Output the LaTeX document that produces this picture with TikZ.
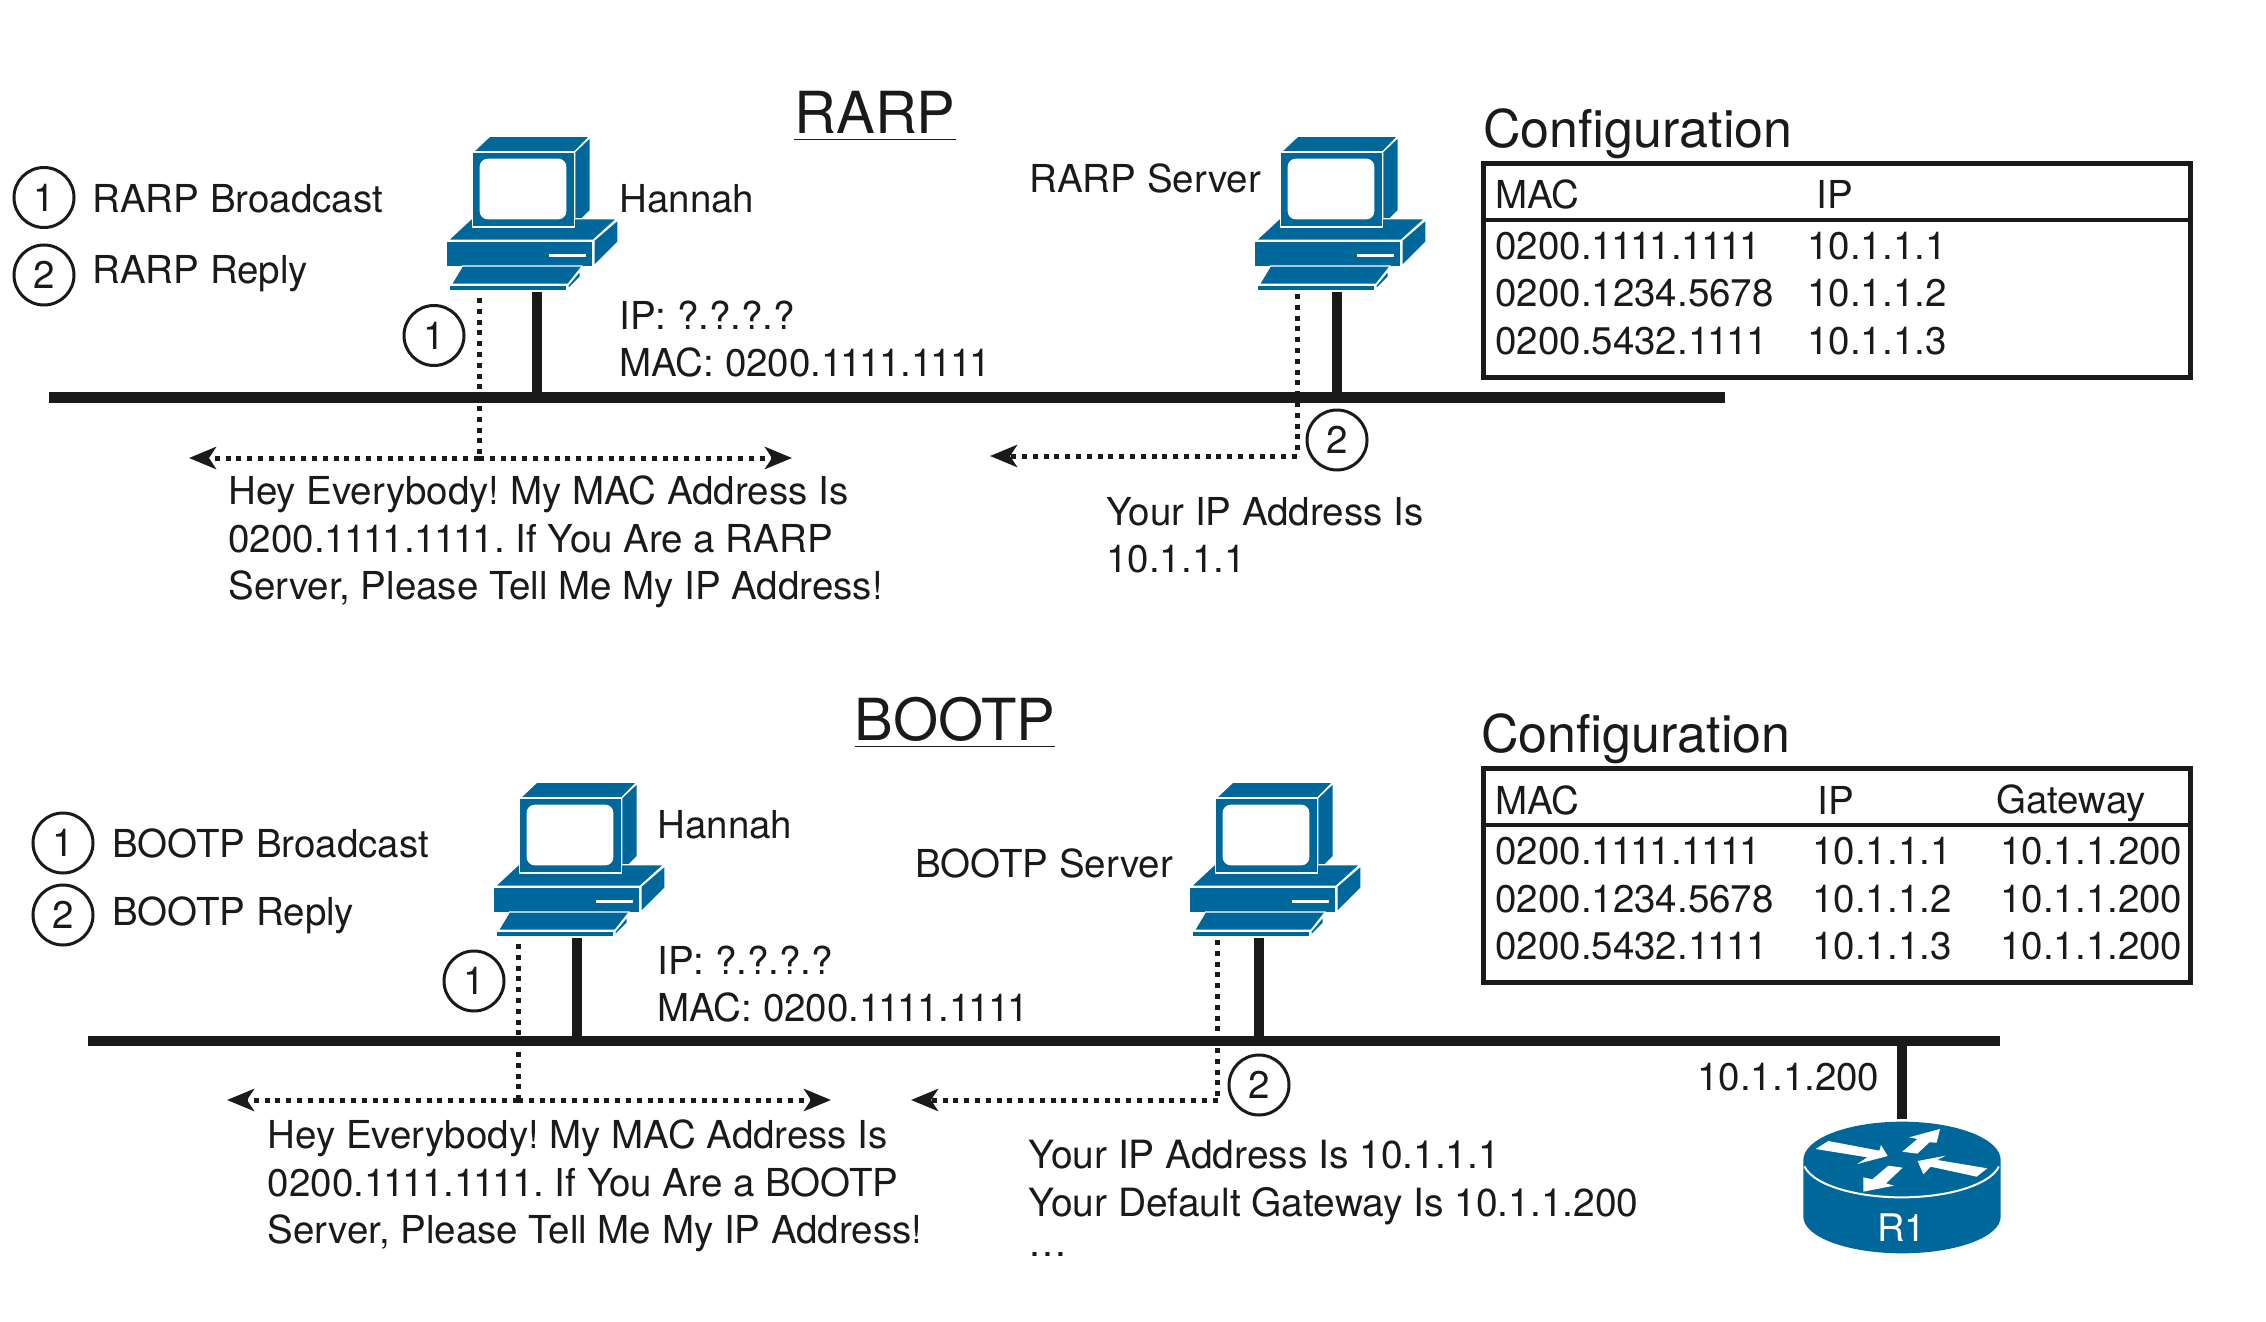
\documentclass[tikz,border=0pt]{standalone}
\usepackage{fontspec}
\setmainfont{TeX Gyre Heros}
\usetikzlibrary{arrows.meta}
\definecolor{ciscoblue}{RGB}{0,103,155}
\definecolor{inkblack}{RGB}{26,26,26}
\newcommand\ones{1\kern-1.05pt 1\kern-1.05pt 1\kern-1.05pt 1}
\newcommand\headline[1]{\underline{#1\rule[-1.5pt]{0pt}{1pt}}}
\tikzset{
  txt/.style={inner sep=0pt,text=inkblack,font=\fontsize{19.25}{23.75}\selectfont,align=left,anchor=west},
  heading/.style={txt,font=\fontsize{29}{32}\selectfont,anchor=center},
  conftitle/.style={txt,font=\fontsize{26}{30}\selectfont},
  num/.style={circle,draw=inkblack,line width=1.5pt,minimum size=30pt,inner sep=0pt,text=inkblack,font=\fontsize{19.25}{23.75}\selectfont},
  bus/.style={draw=inkblack,line width=5.3pt},
  stem/.style={draw=inkblack,line width=5pt},
  drop/.style={draw=inkblack,line width=2.5pt,dash pattern=on 2.5pt off 2.9pt},
  flow/.style={drop,-{Stealth[length=13.5pt,width=11pt,inset=3.5pt]}},
  tablebox/.style={draw=inkblack,line width=2.3pt,inner sep=0pt},
  skin/.style={fill=ciscoblue,draw=white,line width=.6pt,line join=round},
  hostpic/.pic={
    \begin{scope}[scale=1/3,shift={(-412,-575)}]
      \path[skin] (220,155) -- (270,108) -- (570,108) -- (525,155) -- cycle;
      \path[skin] (525,155) -- (572,110) -- (572,330) -- (525,378) -- cycle;
      \path[skin] (145,420) -- (215,355) -- (652,355) -- (580,420) -- cycle;
      \path[skin] (218,155) rectangle (525,380);
      \fill[white,rounded corners=4pt] (240,175) rectangle (500,357);
      \path[skin] (583,420) -- (655,358) -- (655,425) -- (583,497) -- cycle;
      \path[skin] (140,423) rectangle (580,500);
      \draw[white,line width=1.7pt] (447,465) -- (558,465);
      \path[skin] (188,497) -- (548,497) -- (505,552) -- (155,552) -- cycle;
      \path[skin] (505,555) -- (542,510) -- (542,530) -- (505,567) -- cycle;
      \path[skin] (150,555) rectangle (502,570);
    \end{scope}
  }
}
\frenchspacing
\begin{document}
\begin{tikzpicture}[x=0.5pt,y=-0.5pt]
  \useasboundingbox (0,0) rectangle (2266,1322);

  % Upper half
  \node[heading] (rarp) at (875,115.5) {\headline{RARP}};
  \node[num] (legA1) at (44,197.5) {1};
  \node[num] (legA2) at (44,275) {2};
  \node[txt] (legA1txt) at (92,198.5) {RARP Broadcast};
  \node[txt] (legA2txt) at (92,274) {RARP Reply};

  \pic at (537,292) {hostpic};
  \pic at (1345,292) {hostpic};
  \coordinate (hostA) at (537,292);
  \coordinate (serverA) at (1337,292);
  \node[txt] (hannahA) at (619,198.5) {Hannah};
  \node[txt] (serverAtxt) at (1029,178) {RARP Server};
  \node[txt] (addrA) at (619,339) {IP: ?.?.?.?\\MAC: 0200.\ones.\ones};
  \node[num] (oneA) at (434,335.5) {1};
  \node[num] (twoA) at (1337,440) {2};

  \coordinate (busAl) at (49,397.5);
  \coordinate (busAr) at (1725,397.5);
  \coordinate (dropA) at (479,298);
  \coordinate (forkA) at (479,458);
  \coordinate (leftA) at (189,458);
  \coordinate (rightA) at (792,458);
  \coordinate (dropS) at (1297,294);
  \coordinate (forkS) at (1297,456);
  \coordinate (backS) at (990,456);

  \node[txt] (heyA) at (228,542) {Hey Everybody! My MAC Address Is\\0200.\ones.\ones. If You Are a RARP\\Server, Please Tell Me My IP Address!};
  \node[txt] (replyA) at (1106,535) {Your IP Address Is\\10.1.1.1};

  % Upper table
  \node[conftitle] (confA) at (1483,134) {Configuration};
  \node[tablebox,minimum width=353.5pt,minimum height=107pt,anchor=north west] (tableA) at (1481,161) {};
  \coordinate (headAl) at (1481,220);
  \coordinate (headAr) at (2188,220);
  \node[txt] (macAh) at (1495,194) {MAC};
  \node[txt] (ipAh) at (1816,194) {IP};
  \node[txt] (macA) at (1495,293.5) {0200.\ones.\ones\\0200.1234.5678\\0200.5432.\ones};
  \node[txt] (ipA) at (1807,293.5) {10.1.1.1\\10.1.1.2\\10.1.1.3};

  % Lower half
  \node[heading] (bootp) at (955,722) {\headline{BOOTP}};
  \node[num] (legB1) at (63,843) {1};
  \node[num] (legB2) at (63,915) {2};
  \node[txt] (legB1txt) at (112,843) {BOOTP Broadcast};
  \node[txt] (legB2txt) at (112,915) {BOOTP Reply};

  \pic at (584,938) {hostpic};
  \pic at (1280,938) {hostpic};
  \coordinate (hostB) at (577,938);
  \coordinate (serverB) at (1259,938);
  \node[txt] (hannahB) at (657,825) {Hannah};
  \node[txt] (serverBtxt) at (915,863) {BOOTP Server};
  \node[txt] (addrB) at (657,984) {IP: ?.?.?.?\\MAC: 0200.\ones.\ones};
  \node[num] (oneB) at (474,981) {1};
  \node[num] (twoB) at (1259,1085) {2};

  \coordinate (busBl) at (88,1041);
  \coordinate (busBr) at (2000,1041);
  \coordinate (dropB) at (518,944);
  \coordinate (forkB) at (518,1100);
  \coordinate (leftB) at (227,1100);
  \coordinate (rightB) at (831,1100);
  \coordinate (dropT) at (1217.5,940);
  \coordinate (forkT) at (1217.5,1100);
  \coordinate (backT) at (911,1100);

  \node[txt] (heyB) at (267.5,1186) {Hey Everybody! My MAC Address Is\\0200.\ones.\ones. If You Are a BOOTP\\Server, Please Tell Me My IP Address!};
  \node[txt,font=\fontsize{19.45}{23.75}\selectfont] (replyB) at (1028,1198.5) {Your IP Address Is 10.1.1.1\\Your Default Gateway Is 10.1.1.200\\[-3.5pt]\dots};
  \node[txt] (gwtxt) at (1697,1077) {10.1.1.200};

  % Lower table
  \node[conftitle] (confB) at (1481,738.5) {Configuration};
  \node[tablebox,minimum width=353.5pt,minimum height=107pt,anchor=north west] (tableB) at (1481,766) {};
  \coordinate (headBl) at (1481,825);
  \coordinate (headBr) at (2188,825);
  \node[txt] (macBh) at (1495,800) {MAC};
  \node[txt] (ipBh) at (1817,800) {IP};
  \node[txt] (gwBh) at (1996,803) {Gateway};
  \node[txt] (macB) at (1495,899) {0200.\ones.\ones\\0200.1234.5678\\0200.5432.\ones};
  \node[txt] (ipB) at (1812,899) {10.1.1.1\\10.1.1.2\\10.1.1.3};
  \node[txt] (gwB) at (2000,899) {10.1.1.200\\10.1.1.200\\10.1.1.200};

  % Router
  \coordinate (routerTop) at (1902,1119);
  \begin{scope}[shift={(1780,1020)},scale=1/3]
    \fill[ciscoblue] (70,420) -- (70,590) arc[start angle=180,end angle=0,x radius=296,y radius=110]
      -- (662,420) arc[start angle=0,end angle=-180,x radius=296,y radius=115] -- cycle;
    \draw[white,line width=1pt] (73.5,439.5) arc[start angle=170,end angle=10,x radius=296,y radius=112];
    \fill[white] (107,387) -- (145,363) -- (298,392) -- (303,375) -- (323,408) -- (232,432) -- (262,412) -- cycle;
    \fill[white] (367,395) -- (412,401) -- (448,367) -- (470,368) -- (480,327) -- (387,352) -- (412,357) -- cycle;
    \fill[white] (622,445) -- (590,470) -- (452,440) -- (430,463) -- (413,423) -- (497,407) -- (472,420) -- cycle;
    \fill[white] (325,437) -- (368,443) -- (318,490) -- (342,497) -- (250,515) -- (250,472) -- (277,478) -- cycle;
    \node[inner sep=0pt,text=white,font=\fontsize{19}{22}\selectfont] (r1) at (365,622) {R1};
  \end{scope}

  % Connectors
  \draw[drop] (dropA) -- (forkA);
  \draw[drop] (dropS) -- (forkS);
  \draw[drop] (dropB) -- (forkB);
  \draw[drop] (dropT) -- (forkT);
  \draw[bus] (busAl) -- (busAr);
  \draw[bus] (busBl) -- (busBr);
  \draw[stem] (hostA) -- (hostA |- busAl);
  \draw[stem] (serverA) -- (serverA |- busAl);
  \draw[stem] (hostB) -- (hostB |- busBl);
  \draw[stem] (serverB) -- (serverB |- busBl);
  \draw[stem] (routerTop) -- (routerTop |- busBl);
  \draw[flow] (forkA) -- (leftA);
  \draw[flow] (forkA) -- (rightA);
  \draw[flow] (forkS) -- (backS);
  \draw[flow] (forkB) -- (leftB);
  \draw[flow] (forkB) -- (rightB);
  \draw[flow] (forkT) -- (backT);
  \draw[draw=inkblack,line width=2.3pt] (headAl) -- (headAr);
  \draw[draw=inkblack,line width=2.3pt] (headBl) -- (headBr);
\end{tikzpicture}
\end{document}
